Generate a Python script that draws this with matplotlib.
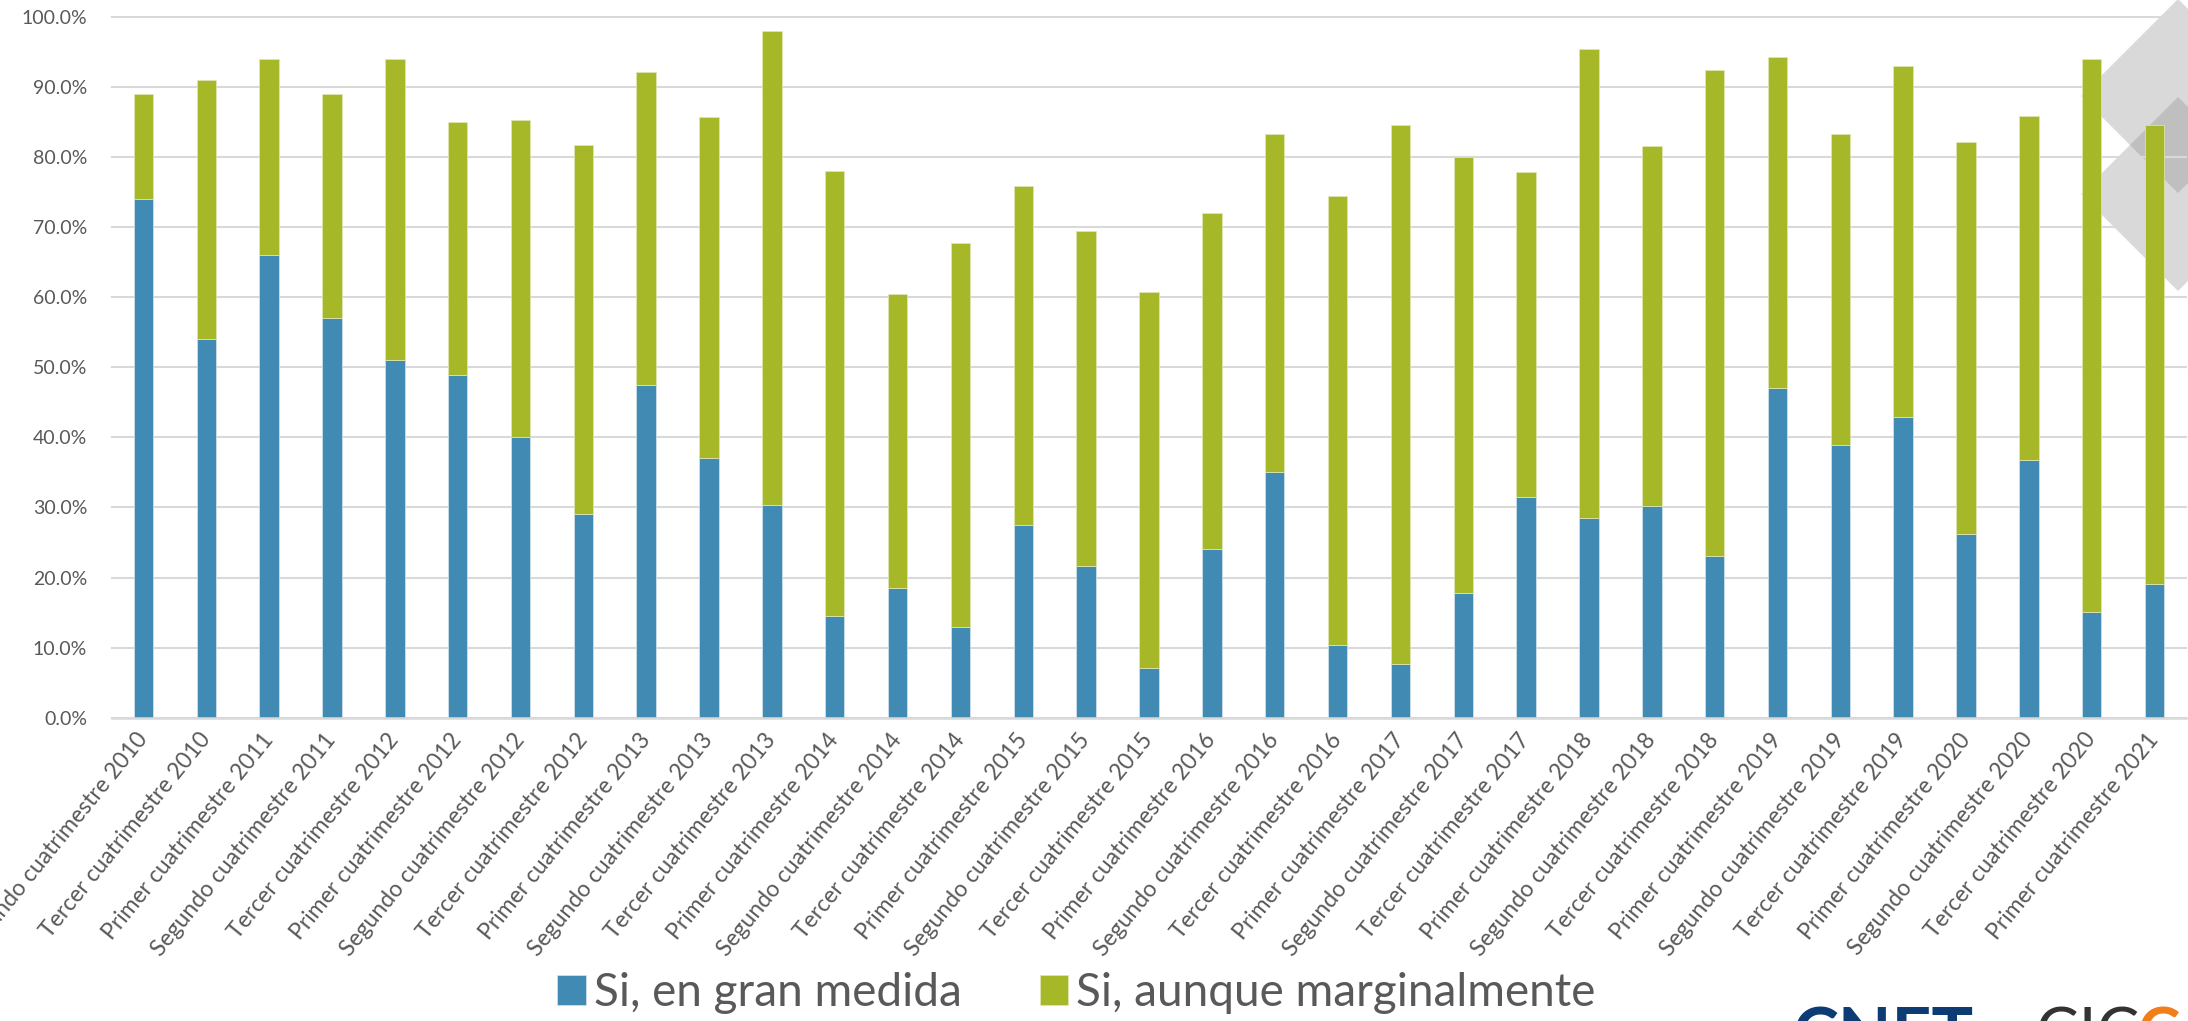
import matplotlib
matplotlib.use("Agg")
import matplotlib.pyplot as plt
from matplotlib.patches import Polygon
from matplotlib.ticker import FuncFormatter
import numpy as np

plt.rcParams['font.family'] = ['Lato', 'DejaVu Sans']

categories = [
    "Segundo cuatrimestre 2010", "Tercer cuatrimestre 2010",
    "Primer cuatrimestre 2011", "Segundo cuatrimestre 2011",
    "Tercer cuatrimestre 2012", "Primer cuatrimestre 2012",
    "Segundo cuatrimestre 2012", "Tercer cuatrimestre 2012",
    "Primer cuatrimestre 2013", "Segundo cuatrimestre 2013",
    "Tercer cuatrimestre 2013", "Primer cuatrimestre 2014",
    "Segundo cuatrimestre 2014", "Tercer cuatrimestre 2014",
    "Primer cuatrimestre 2015", "Segundo cuatrimestre 2015",
    "Tercer cuatrimestre 2015", "Primer cuatrimestre 2016",
    "Segundo cuatrimestre 2016", "Tercer cuatrimestre 2016",
    "Primer cuatrimestre 2017", "Segundo cuatrimestre 2017",
    "Tercer cuatrimestre 2017", "Primer cuatrimestre 2018",
    "Segundo cuatrimestre 2018", "Tercer cuatrimestre 2018",
    "Primer cuatrimestre 2019", "Segundo cuatrimestre 2019",
    "Tercer cuatrimestre 2019", "Primer cuatrimestre 2020",
    "Segundo cuatrimestre 2020", "Tercer cuatrimestre 2020",
    "Primer cuatrimestre 2021",
]

gran_medida = [74.0, 54.0, 66.0, 57.0, 51.0, 48.9, 40.0, 29.1, 47.4, 37.1,
               30.4, 14.5, 18.5, 12.9, 27.5, 21.7, 7.1, 24.0, 35.0, 10.3,
               7.7, 17.8, 31.5, 28.5, 30.2, 23.1, 47.1, 38.9, 42.9, 26.2,
               36.8, 15.1, 19.1]

marginalmente = [15.0, 37.0, 28.0, 32.0, 43.0, 36.1, 45.3, 52.6, 44.7, 48.6,
                 67.5, 63.5, 42.0, 54.8, 48.4, 47.8, 53.6, 48.0, 48.3, 64.1,
                 76.9, 62.2, 46.4, 66.9, 51.3, 69.3, 47.1, 44.4, 50.0, 55.9,
                 49.0, 78.9, 65.5]

series_labels = ["Si, en gran medida", "Si, aunque marginalmente"]
yticks = list(range(0, 101, 10))

BLUE = "#418AB3"
GREEN = "#A6B727"
GRID = "#D9D9D9"
TXT = "#595959"

W, H = 2188, 1021
fig = plt.figure(figsize=(W / 100, H / 100), dpi=100)

# decorative diamonds (top-right corner)
def fx(x):
    return x / W
def fy(y):
    return 1 - y / H
def poly(pts, color):
    p = Polygon([(fx(x), fy(y)) for x, y in pts], closed=True,
                transform=fig.transFigure, facecolor=color, edgecolor='none', zorder=-1)
    fig.patches.append(p)

poly([(2081, 96), (2178, -1), (2275, 96), (2178, 193)], "#D9D9D9")
poly([(2081, 194), (2178, 97), (2275, 194), (2178, 291)], "#D9D9D9")
poly([(2130, 145), (2178, 97), (2226, 145), (2178, 193)], "#BFBFBF")

left, right = 112, 2186
top, bottom = 16.7, 717.7
ax = fig.add_axes([left / W, 1 - bottom / H, (right - left) / W, (bottom - top) / H])
ax.set_facecolor('none')

x = np.arange(len(categories))
b1 = ax.bar(x, gran_medida, width=0.31, color=BLUE, edgecolor='#D6E6F0',
            linewidth=0.5, zorder=3, label=series_labels[0])
b2 = ax.bar(x, marginalmente, width=0.31, bottom=gran_medida, color=GREEN,
            edgecolor='#E2E8B8', linewidth=0.5, zorder=3, label=series_labels[1])

ax.set_xlim(-0.5, len(categories) - 0.5)
ax.set_ylim(0, 100)
ax.set_yticks(yticks)
ax.yaxis.set_major_formatter(FuncFormatter(lambda v, p: f"{v:.1f}%"))
ax.grid(axis='y', color=GRID, linewidth=1.5, zorder=0)
for gl in ax.get_ygridlines():
    gl.set_clip_on(False)
ax.set_axisbelow(True)
for s in ['top', 'right', 'left']:
    ax.spines[s].set_visible(False)
ax.spines['bottom'].set_color(GRID)
ax.spines['bottom'].set_linewidth(1.8)
ax.spines['bottom'].set_zorder(4)

ax.tick_params(axis='y', length=0, pad=18, labelsize=14, labelcolor=TXT)
ax.tick_params(axis='x', length=0, pad=13, labelsize=16.5, labelcolor=TXT)
ax.set_xticks(x)
ax.set_xticklabels(categories, rotation=51, ha='right', va='center',
                   rotation_mode='anchor')

leg = fig.legend(handles=[b1, b2], labels=series_labels, ncol=2, loc='center',
                 bbox_to_anchor=(0.492, 0.027), frameon=False, fontsize=33,
                 handlelength=0.62, handleheight=0.62, handletextpad=0.18,
                 columnspacing=1.7, borderpad=0, labelcolor=TXT)

# partially visible logos, bottom-right
fig.text(fx(1792), fy(1006), "CNET", fontsize=50, fontweight='bold',
         color='#0D3C74', va='top', ha='left')
fig.text(fx(2036), fy(1006), "CIC", fontsize=46, color='#333333',
         va='top', ha='left')
fig.text(fx(2138), fy(1006), "C", fontsize=46, fontweight='bold',
         color='#F07E1B', va='top', ha='left')

fig.savefig("out.png", dpi=100)
